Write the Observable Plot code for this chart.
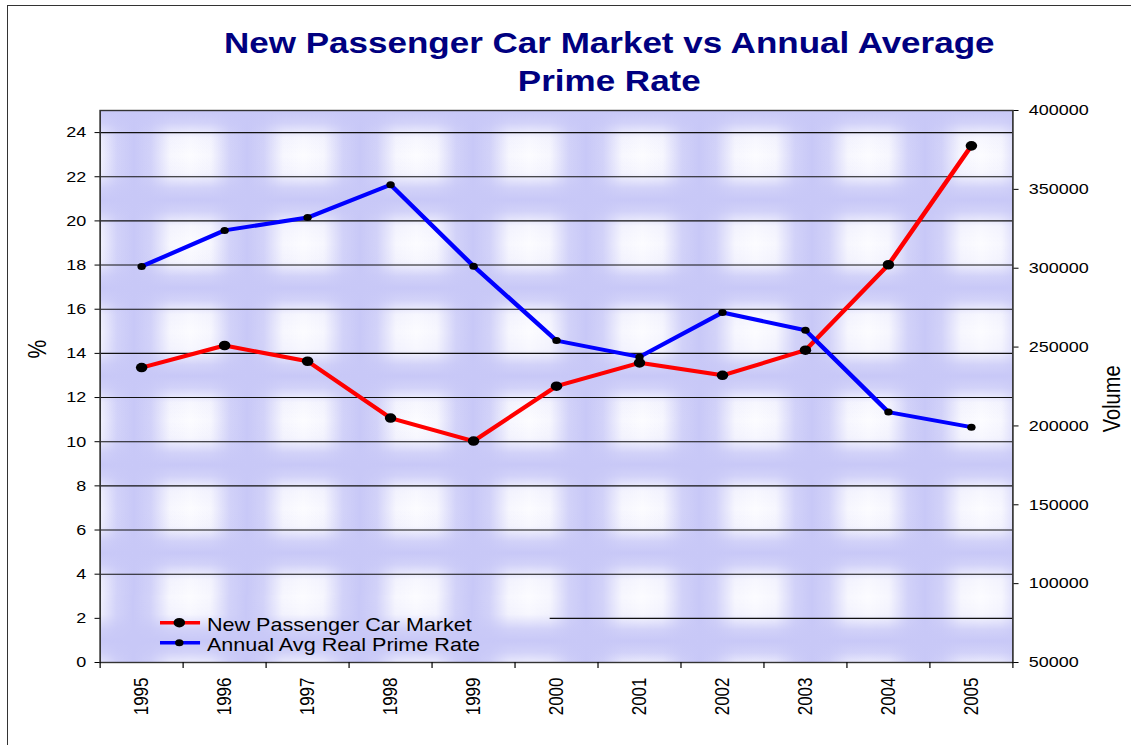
<!DOCTYPE html>
<html><head><meta charset="utf-8">
<script src="https://cdn.jsdelivr.net/npm/d3@7"></script>
<script src="https://cdn.jsdelivr.net/npm/@observablehq/plot@0.6"></script>
<style>
html,body{margin:0;padding:0;background:#fff;}
body{width:1131px;height:745px;overflow:hidden;position:relative;font-family:"Liberation Sans",Arial,sans-serif;}
#border{position:absolute;left:7px;top:5px;width:1200px;height:800px;border-left:1.5px solid #333;border-top:1.5px solid #333;}
#wrap{position:absolute;left:0;top:0;width:943px;height:745px;transform:scaleX(1.1994);transform-origin:0 0;}
#title{position:absolute;left:0;top:25px;width:1016px;text-align:center;font-weight:bold;font-size:29.2px;line-height:37.6px;color:#000080;}
#chart{position:absolute;left:0;top:100px;}
</style></head><body>
<div id="border"></div>
<div id="wrap">
  <div id="title">New Passenger Car Market vs Annual Average<br>Prime Rate</div>
  <div id="chart"></div>
</div>
<script>
// ---- data ----
const years = [1995, 1996, 1997, 1998, 1999, 2000, 2001, 2002, 2003, 2004, 2005];
const carMarket = [237000, 251000, 241000, 205000, 190400, 225200, 240000, 232100, 248000, 302200, 377600];
const primeRate = [17.94, 19.57, 20.15, 21.64, 17.95, 14.58, 13.84, 15.85, 15.05, 11.34, 10.66];
const seriesNames = ["New Passenger Car Market", "Annual Avg Real Prime Rate"];
const seriesColors = ["#ff0000", "#0000ff"];
const percentTicks = [0, 2, 4, 6, 8, 10, 12, 14, 16, 18, 20, 22, 24];
const volumeTicks = [50000, 100000, 150000, 200000, 250000, 300000, 350000, 400000];
const percentDomain = [0, 25];
const volumeDomain = [50000, 400000];

// map volume onto the percent axis (dual axis)
const toPct = v => (v - volumeDomain[0]) / (volumeDomain[1] - volumeDomain[0]) * (percentDomain[1] - percentDomain[0]) + percentDomain[0];
const toVol = p => volumeDomain[0] + (p - percentDomain[0]) / (percentDomain[1] - percentDomain[0]) * (volumeDomain[1] - volumeDomain[0]);

const carData = years.map((y, i) => ({year: y, value: toPct(carMarket[i])}));
const rateData = years.map((y, i) => ({year: y, value: primeRate[i]}));
const bounds = years.map(y => y - 0.5).concat([years[years.length - 1] + 0.5]);

const plot = Plot.plot({
  width: 943,
  height: 645,
  marginTop: 10,
  marginBottom: 83,
  marginLeft: 83,
  marginRight: 99,
  style: {fontFamily: "'Liberation Sans', Arial, sans-serif", fontSize: "15px", color: "#000", background: "transparent", overflow: "visible"},
  x: {type: "linear", domain: [bounds[0], bounds[bounds.length - 1]]},
  y: {domain: percentDomain},
  marks: [
    Plot.frame({fill: "url(#bgpat)"}),
    Plot.ruleY(percentTicks.filter(d => d > 0), {stroke: "#111", strokeWidth: 1.1}),
    Plot.line(carData, {x: "year", y: "value", stroke: seriesColors[0], strokeWidth: 4}),
    Plot.dot(carData, {x: "year", y: "value", r: 4.8, fill: "#000", stroke: "none"}),
    Plot.line(rateData, {x: "year", y: "value", stroke: seriesColors[1], strokeWidth: 4}),
    Plot.dot(rateData, {x: "year", y: "value", r: 3.5, fill: "#000", stroke: "none"}),
    Plot.frame({stroke: "#333", strokeWidth: 1.4}),
    Plot.axisY({anchor: "left", ticks: percentTicks, tickSize: 4.2, tickPadding: 7.4, fontSize: 15, label: null}),
    Plot.axisY({anchor: "right", ticks: volumeTicks.map(toPct), tickFormat: d => String(Math.round(toVol(d))), tickSize: 4.2, tickPadding: 9, fontSize: 15, label: null}),
    Plot.axisX({ticks: bounds, tickFormat: () => "", tickSize: 6, label: null}),
    Plot.axisX({ticks: years, tickFormat: d => String(d), tickSize: 0, tickRotate: -90, tickPadding: 15, fontSize: 17, label: null}),
    Plot.text(["%"], {frameAnchor: "left", dx: -52, dy: -28, rotate: -90, fontSize: 21}),
    Plot.text(["Volume"], {frameAnchor: "right", dx: 82.5, dy: -21, rotate: -90, fontSize: 20})
  ]
});

document.getElementById("chart").appendChild(plot);

// background texture pattern + legend
const s = d3.select(plot);
const defs = s.insert("defs", ":first-child");
const lav = "#c8c8f7";
const gh = defs.append("linearGradient").attr("id", "gh").attr("x1", 0).attr("x2", 1).attr("y1", 0).attr("y2", 0);
[[0, 1], [0.15, 0.8], [0.32, 0.1], [0.5, 0], [0.68, 0.1], [0.85, 0.8], [1, 1]].forEach(([o, a]) =>
  gh.append("stop").attr("offset", o).attr("stop-color", lav).attr("stop-opacity", a));
const gv = defs.append("linearGradient").attr("id", "gv").attr("x1", 0).attr("x2", 0).attr("y1", 0).attr("y2", 1);
[[0, 1], [0.13, 0.8], [0.3, 0.1], [0.5, 0], [0.7, 0.1], [0.87, 0.8], [1, 1]].forEach(([o, a]) =>
  gv.append("stop").attr("offset", o).attr("stop-color", lav).attr("stop-opacity", a));
const TW = 94.2, TH = 88.3;
const pat = defs.append("pattern").attr("id", "bgpat").attr("patternUnits", "userSpaceOnUse")
  .attr("x", 111.2).attr("y", 10.85).attr("width", TW).attr("height", TH);
pat.append("rect").attr("width", TW).attr("height", TH).attr("fill", "#fcfcff");
pat.append("rect").attr("width", TW).attr("height", TH).attr("fill", "url(#gh)");
pat.append("rect").attr("width", TW).attr("height", TH).attr("fill", "url(#gv)");

const lg = s.append("g").attr("class", "legend").attr("text-anchor", "start");
lg.append("rect").attr("x", 84.2).attr("y", 495).attr("width", 458.3 - 84.2).attr("height", 65).attr("fill", "url(#bgpat)");
seriesNames.forEach((name, i) => {
  const y = 522.7 + 20 * i;
  lg.append("line").attr("x1", 133.4).attr("x2", 166.8).attr("y1", y).attr("y2", y)
    .attr("stroke", seriesColors[i]).attr("stroke-width", 3.5);
  lg.append("circle").attr("cx", 149.5).attr("cy", y).attr("r", i === 0 ? 4.8 : 3.5).attr("fill", "#000");
  lg.append("text").attr("x", 172.5).attr("y", y + 8).attr("font-size", 18).attr("text-anchor", "start")
    .attr("font-family", "'Liberation Sans', Arial, sans-serif").attr("fill", "#000").text(name);
});
</script>
</body></html>
